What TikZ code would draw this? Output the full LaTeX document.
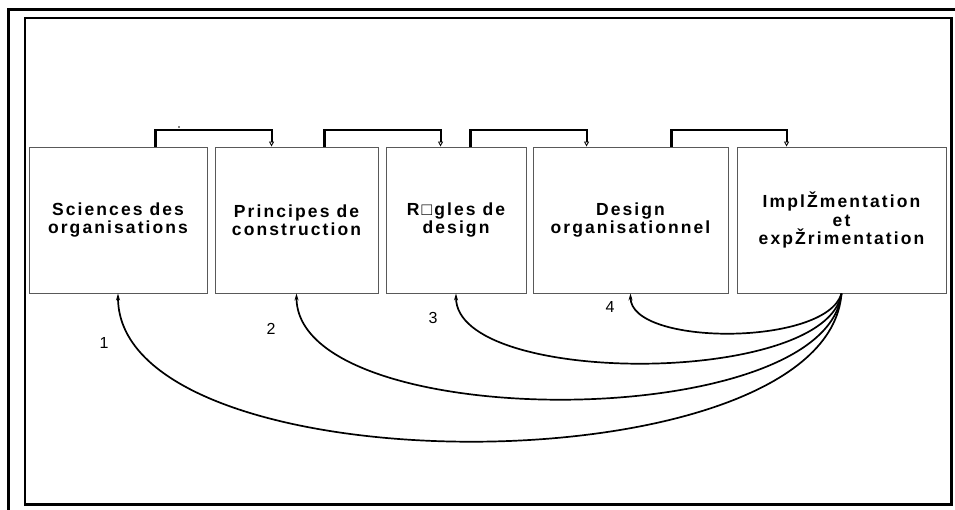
\documentclass[tikz,border=0pt]{standalone}
\usepackage{fontspec}
\setmainfont{Liberation Sans}
\newfontfamily\boxfont[LetterSpace=12]{Liberation Sans}
\usetikzlibrary{arrows.meta}
\begin{document}
\begin{tikzpicture}[x=1pt,y=-1pt,
  box/.style={draw=black!65, line width=0.9pt, minimum height=146pt, inner sep=0pt,
    align=center, font=\boxfont\bfseries\fontsize{17.5}{18.5}\selectfont},
  legthick/.style={line width=3pt},
  bar/.style={line width=2pt, -{Triangle[open,length=5pt,width=5pt,line width=0.8pt]}},
  curve/.style={line width=1.7pt, -{Stealth[length=7pt,width=4pt]}},
  num/.style={font=\fontsize{16}{18}\selectfont, inner sep=0pt}]
\useasboundingbox (0,0) rectangle (955,510);
% frames
\draw[line width=3pt] (8.5,520) -- (8.5,9.5) -- (965,9.5);
\draw[line width=2.2pt] (24.7,18) rectangle (951.5,504.5);
% boxes
\node[box, minimum width=178pt] (b1) at (118,220) {Sciences des\\organisations};
\node[box, minimum width=163pt] (b2) at (296.5,220) {Principes de\\construction};
\node[box, minimum width=140pt] (b3) at (456,220) {R□gles de\\design};
\node[box, minimum width=195pt] (b4) at (630.5,220) {Design\\organisationnel};
\node[box, minimum width=209pt] (b5) at (841.5,220) {ImplŽmentation\\et\\expŽrimentation};
% top brackets
\draw[legthick] ([xshift=127pt]b1.north west) -- ++(0,-16.5) coordinate (t1);
\draw[bar] ([xshift=-1.5pt]t1) -| ([xshift=57pt]b2.north west);
\draw[legthick] ([xshift=110pt]b2.north west) -- ++(0,-16.5) coordinate (t2);
\draw[bar] ([xshift=-1.5pt]t2) -| ([xshift=55pt]b3.north west);
\draw[legthick] ([xshift=85pt]b3.north west) -- ++(0,-16.5) coordinate (t3);
\draw[bar] ([xshift=-1.5pt]t3) -| ([xshift=54pt]b4.north west);
\draw[legthick] ([xshift=139pt]b4.north west) -- ++(0,-16.5) coordinate (t4);
\draw[bar] ([xshift=-1.5pt]t4) -| ([xshift=50pt]b5.north west);
\fill (179,127) circle (0.8pt);
% feedback curves
\draw[curve] (b5.south) .. controls +(-15,197) and +(0,197) .. (b1.south);
\draw[curve] (b5.south) .. controls +(-15,141) and +(0,141) .. (b2.south);
\draw[curve] (b5.south) .. controls +(-15,93) and +(0,93) .. (b3.south);
\draw[curve] (b5.south) .. controls +(-15,53) and +(0,53) .. (b4.south);
% numbers
\node[num] (n1) at (104,343) {1};
\node[num] (n2) at (271,329) {2};
\node[num] (n3) at (433,318) {3};
\node[num] (n4) at (610,307) {4};
\end{tikzpicture}
\end{document}
